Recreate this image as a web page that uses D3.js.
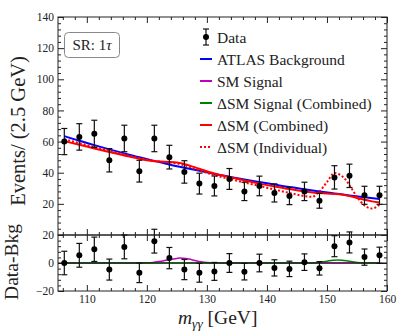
<!DOCTYPE html>
<html>
<head>
<meta charset="utf-8">
<script src="https://cdn.jsdelivr.net/npm/d3@7"></script>
<style>
  body { margin: 0; background: #fff; }
  svg { display: block; }
  text { font-family: "Liberation Serif", "DejaVu Serif", serif; fill: #222; }
</style>
</head>
<body>
<svg id="chart" width="407" height="333"></svg>
<script>
// bin centres (2.5 GeV bins)
const massBins = [106.25, 108.75, 111.25, 113.75, 116.25, 118.75, 121.25, 123.75, 126.25, 128.75, 131.25,
  133.75, 136.25, 138.75, 141.25, 143.75, 146.25, 148.75, 151.25, 153.75, 156.25, 158.75];
const dataCounts = [60, 63, 65, 48, 62, 41, 62, 50, 40.5, 33, 31.5, 36, 28, 31.5, 27, 25, 28, 22, 37, 38, 25.5, 25.5];
const dataErrors = [8.4, 8.5, 8.7, 7.5, 8.5, 7.0, 8.5, 7.6, 7.2, 6.7, 6.4, 6.7, 5.9, 6.3, 5.8, 5.5, 5.9, 4.8, 7.5, 7.5, 5.8, 5.8];
const residuals = [0, 5.5, 9.8, -4.7, 11.5, -7, 15.6, 3.5, -4.7, -7, -6, 0, -6.2, 0, -3.5, -4.2, 0.6, -3.8, 12, 14.7, 4.2, 5.5];

// ATLAS background
const bkgFit = [63.5, 60.5, 57.7, 55.0, 52.4, 49.9, 47.6, 45.3, 43.2, 41.2, 39.2, 37.4, 35.6, 34.0, 32.4, 30.8,
  29.4, 28.0, 26.7, 25.4, 24.2, 23.1];

// dSM combined
const comboMass = [106.25, 108.75, 111.25, 113.75, 116.25, 118.75, 120, 121.25, 122.5, 123.75, 125, 126.25, 127.5,
  128.75, 131.25, 133.75, 136.25, 138.75, 141.25, 143.75, 146.25, 148.75, 150, 151.25, 152.5, 153.75, 155, 156.25,
  157.5, 158.75];
const comboFit = [60.3, 58.0, 55.6, 53.3, 51.1, 48.9, 48.0, 47.4, 47.1, 46.9, 46.5, 45.6, 44.1, 42.5, 39.5, 37.2,
  35.0, 33.0, 31.2, 29.5, 28.0, 26.9, 26.6, 26.4, 26.0, 25.0, 23.8, 22.6, 21.6, 20.8];

// dSM individual
const indivMass = [106.25, 108.75, 111.25, 113.75, 116.25, 118.75, 121.25, 123.75, 125, 126.25, 127.5, 128.75,
  131.25, 133.75, 136.25, 138.75, 141.25, 143.75, 146.25, 147.5, 148.75, 150, 151.25, 152, 153, 154, 155, 156.25,
  157.5, 158.75];
const indivFit = [61.5, 59.0, 56.5, 54.0, 51.7, 49.5, 47.6, 46.6, 46.0, 44.8, 43.2, 41.5, 38.5, 36.0, 33.7, 31.5,
  29.2, 27.0, 25.0, 24.5, 28.0, 34.0, 39.8, 39.0, 36.0, 30.5, 24.5, 19.0, 17.0, 19.5];

// signal shapes in the lower panel
const smMass = [106.25, 119, 120, 121, 122, 123, 124, 125, 125.5, 126, 127, 128, 129, 130, 131, 158.75];
const smSignal = [0, 0, 0.1, 0.4, 1.0, 1.8, 2.7, 3.3, 3.5, 3.4, 2.8, 1.8, 0.9, 0.3, 0, 0];
const dsmMass = [106.25, 147, 148, 149, 150, 151, 151.75, 152.5, 153.5, 154.5, 155.5, 156.5, 158.75];
const dsmSignal = [0, 0, 0.2, 0.6, 1.3, 2.0, 2.2, 2.0, 1.4, 0.7, 0.2, 0, 0];

const xTicks = [110, 120, 130, 140, 150, 160];
const yMainTicks = [20, 40, 60, 80, 100, 120, 140];
const yResTicks = [-20, 0, 20];
const legendLabels = ["Data", "ATLAS Background", "SM Signal", "ΔSM Signal (Combined)", "ΔSM (Combined)", "ΔSM (Individual)"];

const svg = d3.select("#chart");
const font = '"Liberation Serif", "DejaVu Serif", serif';

const x = d3.scaleLinear().domain([105.2, 160]).range([58, 387]);
const y = d3.scaleLinear().domain([0, 140]).range([235, 17]);
const yr = d3.scaleLinear().domain([-20, 20]).range([291, 235]);

function drawAxis(gen, tr, values, size, labels) {
  const g = svg.append("g")
    .attr("transform", tr)
    .call(gen.tickValues(values).tickSize(size).tickPadding(4)
      .tickFormat(labels ? d3.format("d") : ""));
  g.select(".domain").remove();
  g.selectAll("line").attr("stroke", "#222");
  g.attr("font-family", font).attr("font-size", 11.5);
  g.selectAll("text").attr("fill", "#222");
  return g;
}

const xMinor = d3.range(106, 161, 2).filter((d) => d % 10 != 0);
const yMinor = d3.range(4, 140, 4).filter((d) => d % 20 != 0);
const rMinor = [-16, -12, -8, -4, 4, 8, 12, 16];

const [x0, x1] = x.range();

// main panel ticks
drawAxis(d3.axisLeft(y), `translate(${x0},0)`, yMainTicks, -6, true);
drawAxis(d3.axisLeft(y), `translate(${x0},0)`, yMinor, -3, false);
drawAxis(d3.axisRight(y), `translate(${x1},0)`, yMainTicks, -6, false);
drawAxis(d3.axisRight(y), `translate(${x1},0)`, yMinor, -3, false);
drawAxis(d3.axisTop(x), `translate(0,${y(140)})`, xTicks, -6, false);
drawAxis(d3.axisTop(x), `translate(0,${y(140)})`, xMinor, -3, false);
drawAxis(d3.axisBottom(x), `translate(0,${y(0)})`, xTicks, -6, false);
drawAxis(d3.axisBottom(x), `translate(0,${y(0)})`, xMinor, -3, false);

// lower panel ticks
drawAxis(d3.axisLeft(yr), `translate(${x0},0)`, yResTicks, -6, true);
drawAxis(d3.axisLeft(yr), `translate(${x0},0)`, rMinor, -3, false);
drawAxis(d3.axisRight(yr), `translate(${x1},0)`, yResTicks, -6, false);
drawAxis(d3.axisRight(yr), `translate(${x1},0)`, rMinor, -3, false);
drawAxis(d3.axisTop(x), `translate(0,${yr(20)})`, xTicks, -6, false);
drawAxis(d3.axisTop(x), `translate(0,${yr(20)})`, xMinor, -3, false);
drawAxis(d3.axisBottom(x), `translate(0,${yr(-20)})`, xTicks, -6, true);
drawAxis(d3.axisBottom(x), `translate(0,${yr(-20)})`, xMinor, -3, false);

// frames
svg.append("rect")
  .attr("x", x0).attr("y", y(140)).attr("width", x1 - x0).attr("height", y(0) - y(140))
  .attr("fill", "none").attr("stroke", "#222");
svg.append("rect")
  .attr("x", x0).attr("y", yr(20)).attr("width", x1 - x0).attr("height", yr(-20) - yr(20))
  .attr("fill", "none").attr("stroke", "#222");

// fitted curves
const mainLine = d3.line().curve(d3.curveMonotoneX).x((d) => x(d[0])).y((d) => y(d[1]));
const resLine = d3.line().curve(d3.curveMonotoneX).x((d) => x(d[0])).y((d) => yr(d[1]));

svg.append("path").attr("d", mainLine(d3.zip(massBins, bkgFit)))
  .attr("fill", "none").attr("stroke", "#0000ff").attr("stroke-width", 2);
svg.append("path").attr("d", mainLine(d3.zip(comboMass, comboFit)))
  .attr("fill", "none").attr("stroke", "#ff0000").attr("stroke-width", 2);
svg.append("path").attr("d", mainLine(d3.zip(indivMass, indivFit)))
  .attr("fill", "none").attr("stroke", "#ff0000").attr("stroke-width", 2).attr("stroke-dasharray", "2,2");

svg.append("path").attr("d", resLine(d3.zip(smMass, smSignal)))
  .attr("fill", "none").attr("stroke", "#bf00bf").attr("stroke-width", 1.5);
svg.append("path").attr("d", resLine(d3.zip(dsmMass, dsmSignal)))
  .attr("fill", "none").attr("stroke", "#008000").attr("stroke-width", 1.5);
svg.append("line")
  .attr("x1", x0).attr("x2", x1).attr("y1", yr(0)).attr("y2", yr(0))
  .attr("stroke", "#111").attr("stroke-width", 1.2);

// data points with error bars
function drawPoints(values, sy) {
  const pts = svg.append("g").selectAll("g")
    .data(d3.zip(massBins, values, dataErrors))
    .join("g");
  pts.append("line")
    .attr("x1", (d) => x(d[0])).attr("x2", (d) => x(d[0]))
    .attr("y1", (d) => sy(d[1] - d[2])).attr("y2", (d) => sy(d[1] + d[2]))
    .attr("stroke", "#111").attr("stroke-width", 1.2);
  [-1, 1].forEach((s) => {
    pts.append("line")
      .attr("x1", (d) => x(d[0]) - 3).attr("x2", (d) => x(d[0]) + 3)
      .attr("y1", (d) => sy(d[1] + s * d[2])).attr("y2", (d) => sy(d[1] + s * d[2]))
      .attr("stroke", "#111").attr("stroke-width", 1.2);
  });
  pts.append("circle")
    .attr("cx", (d) => x(d[0])).attr("cy", (d) => sy(d[1]))
    .attr("r", 3).attr("fill", "#000");
}
drawPoints(dataCounts, y);
drawPoints(residuals, yr);

// legend
const legend = svg.append("g").attr("transform", "translate(200,37)");
const legendStyles = [
  { color: "#000" },
  { color: "#0000ff" },
  { color: "#bf00bf" },
  { color: "#008000" },
  { color: "#ff0000" },
  { color: "#ff0000", dash: "2,2" },
];
legendLabels.forEach((label, i) => {
  const row = legend.append("g").attr("transform", `translate(0,${i * 22})`);
  if (i == 0) {
    row.append("line").attr("x1", 6).attr("x2", 6).attr("y1", -8).attr("y2", 8)
      .attr("stroke", "#111").attr("stroke-width", 1.2);
    row.append("line").attr("x1", 3).attr("x2", 9).attr("y1", -8).attr("y2", -8)
      .attr("stroke", "#111").attr("stroke-width", 1.2);
    row.append("line").attr("x1", 3).attr("x2", 9).attr("y1", 8).attr("y2", 8)
      .attr("stroke", "#111").attr("stroke-width", 1.2);
    row.append("circle").attr("cx", 6).attr("cy", 0).attr("r", 3).attr("fill", "#000");
  } else {
    row.append("line").attr("x1", 0).attr("x2", 12).attr("y1", 0).attr("y2", 0)
      .attr("stroke", legendStyles[i].color).attr("stroke-width", 2)
      .attr("stroke-dasharray", legendStyles[i].dash || null);
  }
  row.append("text").attr("x", 17).attr("y", 5.5).attr("font-size", 15.5).text(label);
});

// SR box
svg.append("rect")
  .attr("x", 64.5).attr("y", 32.5).attr("width", 55).attr("height", 25).attr("rx", 4)
  .attr("fill", "#fff").attr("stroke", "#888");
const sr = svg.append("text").attr("x", 92).attr("y", 50).attr("text-anchor", "middle").attr("font-size", 15);
sr.append("tspan").text("SR: 1");
sr.append("tspan").attr("font-style", "italic").text("τ");

// axis labels
svg.append("text")
  .attr("transform", "translate(25,131) rotate(-90)")
  .attr("text-anchor", "middle").attr("font-size", 20.5)
  .text("Events/ (2.5 GeV)");
svg.append("text")
  .attr("transform", "translate(18,262) rotate(-90)")
  .attr("text-anchor", "middle").attr("font-size", 19.5)
  .text("Data-Bkg");
const xl = svg.append("text").attr("x", 178).attr("y", 324).attr("font-size", 19.5);
xl.append("tspan").attr("font-style", "italic").text("m");
xl.append("tspan").attr("font-style", "italic").attr("font-size", 13.5).attr("dy", 3.5).text("γγ");
xl.append("tspan").attr("dy", -3.5).text(" [GeV]");
</script>
</body>
</html>
